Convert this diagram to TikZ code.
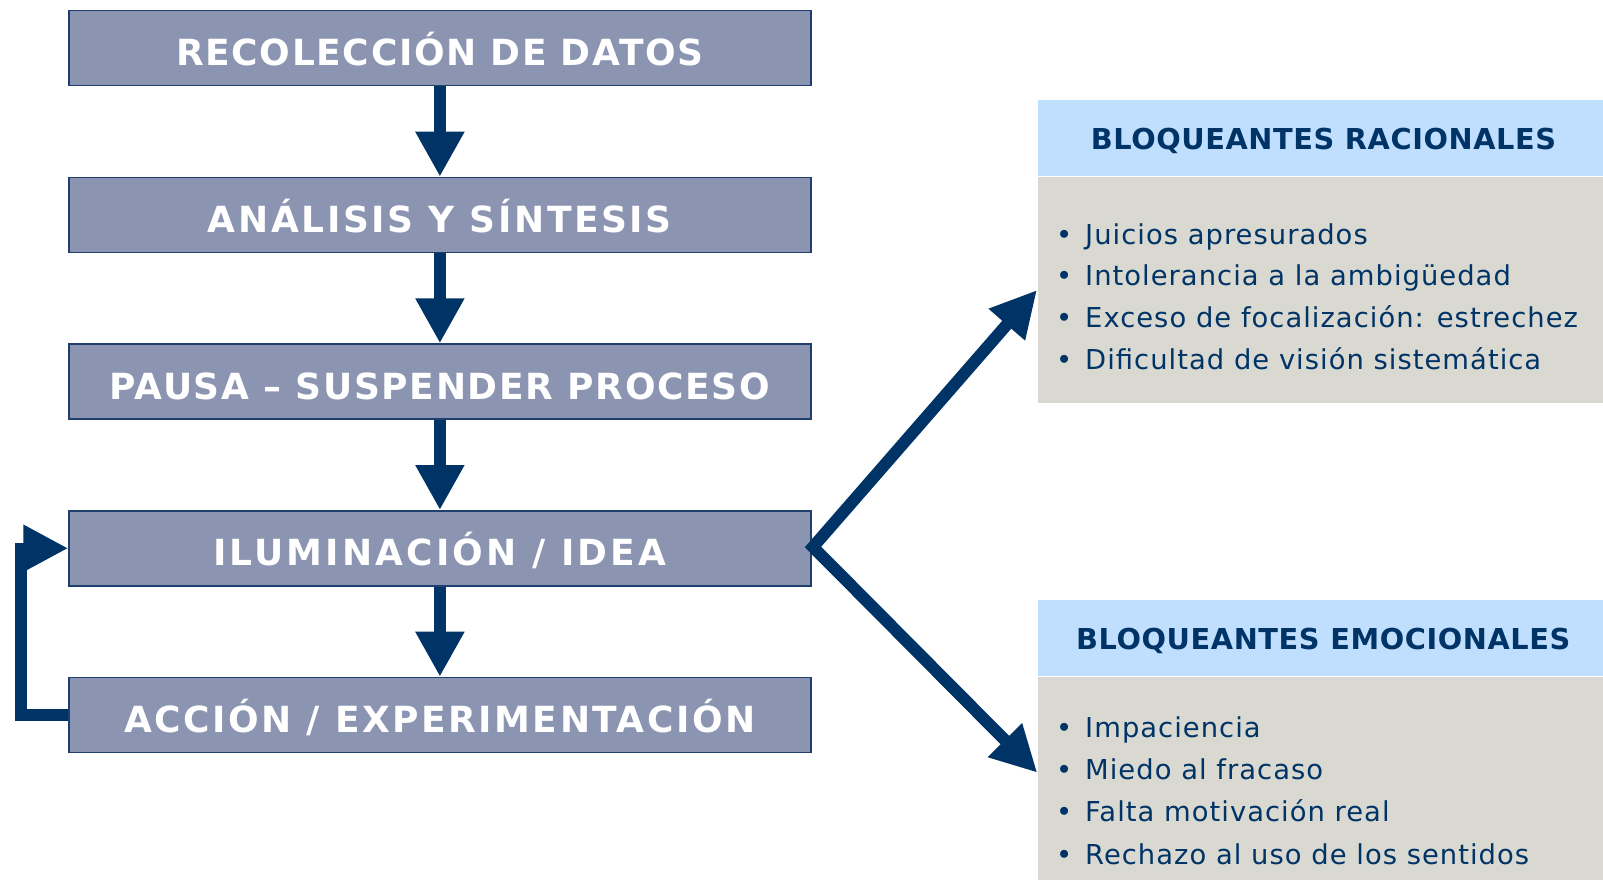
\documentclass[tikz,border=0pt]{standalone}
\usepackage{fontspec}
\setmainfont{DejaVu Sans}
\newfontfamily\boxfont{DejaVu Sans}
\newfontfamily\itemfont[LetterSpace=3.7]{DejaVu Sans}
\usetikzlibrary{arrows.meta}
\definecolor{navy}{RGB}{0,51,102}
\definecolor{boxfill}{RGB}{139,149,178}
\definecolor{boxline}{RGB}{31,63,111}
\definecolor{hdrfill}{RGB}{192,223,255}
\definecolor{bodyfill}{RGB}{217,217,209}
\begin{document}
\begin{tikzpicture}[x=1pt,y=-1pt,
  stepbox/.style={draw=boxline, line width=1.5pt, fill=boxfill,
    minimum width=741.7pt, minimum height=75pt, inner sep=0pt,
    anchor=north west, text=white, text height=35pt, text depth=0pt},
  boxtxt/.style={font=\boxfont\bfseries\fontsize{36}{36}\selectfont\addfontfeature{LetterSpace=#1}},
  flow/.style={draw=navy, line width=12pt, -{Triangle[length=45pt,width=46pt]}},
  hdr/.style={fill=hdrfill, draw=none, minimum width=565.7pt, minimum height=75.7pt,
    inner sep=0pt, anchor=north west},
  bodybox/.style={fill=bodyfill, draw=none, minimum width=565.7pt,
    inner sep=0pt, anchor=north west},
  hdrtext/.style={anchor=base, inner sep=0pt, text=navy,
    font=\boxfont\bfseries\fontsize{28.8}{30}\selectfont\addfontfeature{LetterSpace=2.0}},
  item/.style={anchor=base west, inner sep=0pt, text=navy,
    font=\itemfont\fontsize{27.4}{30}\selectfont}
  ]
\useasboundingbox (0,0) rectangle (1603,880);

% process boxes
\node[stepbox, boxtxt=4.5] (b1) at (68.3,10)    {RECOLECCIÓN DE DATOS};
\node[stepbox, boxtxt=7.2] (b2) at (68.3,176.7) {ANÁLISIS Y SÍNTESIS};
\node[stepbox, boxtxt=4.6] (b3) at (68.3,343.3) {PAUSA – SUSPENDER PROCESO};
\node[stepbox, boxtxt=8.8] (b4) at (68.3,510)   {ILUMINACIÓN / IDEA};
\node[stepbox, boxtxt=7.0] (b5) at (68.3,676.7) {ACCIÓN / EXPERIMENTACIÓN};

\draw[flow] (b1.south) -- (b2.north);
\draw[flow] (b2.south) -- (b3.north);
\draw[flow] (b3.south) -- (b4.north);
\draw[flow] (b4.south) -- (b5.north);

% feedback loop
\draw[flow, line width=11.5pt, line join=miter, -{Triangle[length=45pt,width=44pt]}]
  (b5.west) -- ++(-47.3,0) |- (b4.west);

% panels
\node[hdr] (rhdr) at (1037.3,100) {};
\node[bodybox, minimum height=225.5pt] (rbody) at (1037.3,177) {};
\node[hdr] (ehdr) at (1037.3,600) {};
\node[bodybox, minimum height=203pt] (ebody) at (1037.3,677) {};

\node[hdrtext] (rtitle) at (1323.5,149.3) {BLOQUEANTES RACIONALES};
\node[hdrtext] (etitle) at (1323.3,649.3) {BLOQUEANTES EMOCIONALES};

\node[item] (r1) at (1056,244)   {\makebox[29pt][l]{•}Juicios apresurados};
\node[item] (r2) at (1056,285)   {\makebox[29pt][l]{•}Intolerancia a la ambigüedad};
\node[item] (r3) at (1056,327.3) {\makebox[29pt][l]{•}Exceso de focalización: estrechez};
\node[item] (r4) at (1056,369.3) {\makebox[29pt][l]{•}Dificultad de visión sistemática};

\node[item] (e1) at (1056,737.3) {\makebox[29pt][l]{•}Impaciencia};
\node[item] (e2) at (1056,779.3) {\makebox[29pt][l]{•}Miedo al fracaso};
\node[item] (e3) at (1056,821.7) {\makebox[29pt][l]{•}Falta motivación real};
\node[item] (e4) at (1056,864.3) {\makebox[29pt][l]{•}Rechazo al uso de los sentidos};

% branching arrows
\coordinate (fork) at (813,547);
\coordinate (rtip) at (1037,290);
\coordinate (etip) at (1037.3,772.7);
\draw[flow, line join=miter, {Triangle[length=46pt,width=45pt]}-{Triangle[length=46pt,width=45pt]}]
  (rtip) -- (fork) -- (etip);
\end{tikzpicture}
\end{document}
